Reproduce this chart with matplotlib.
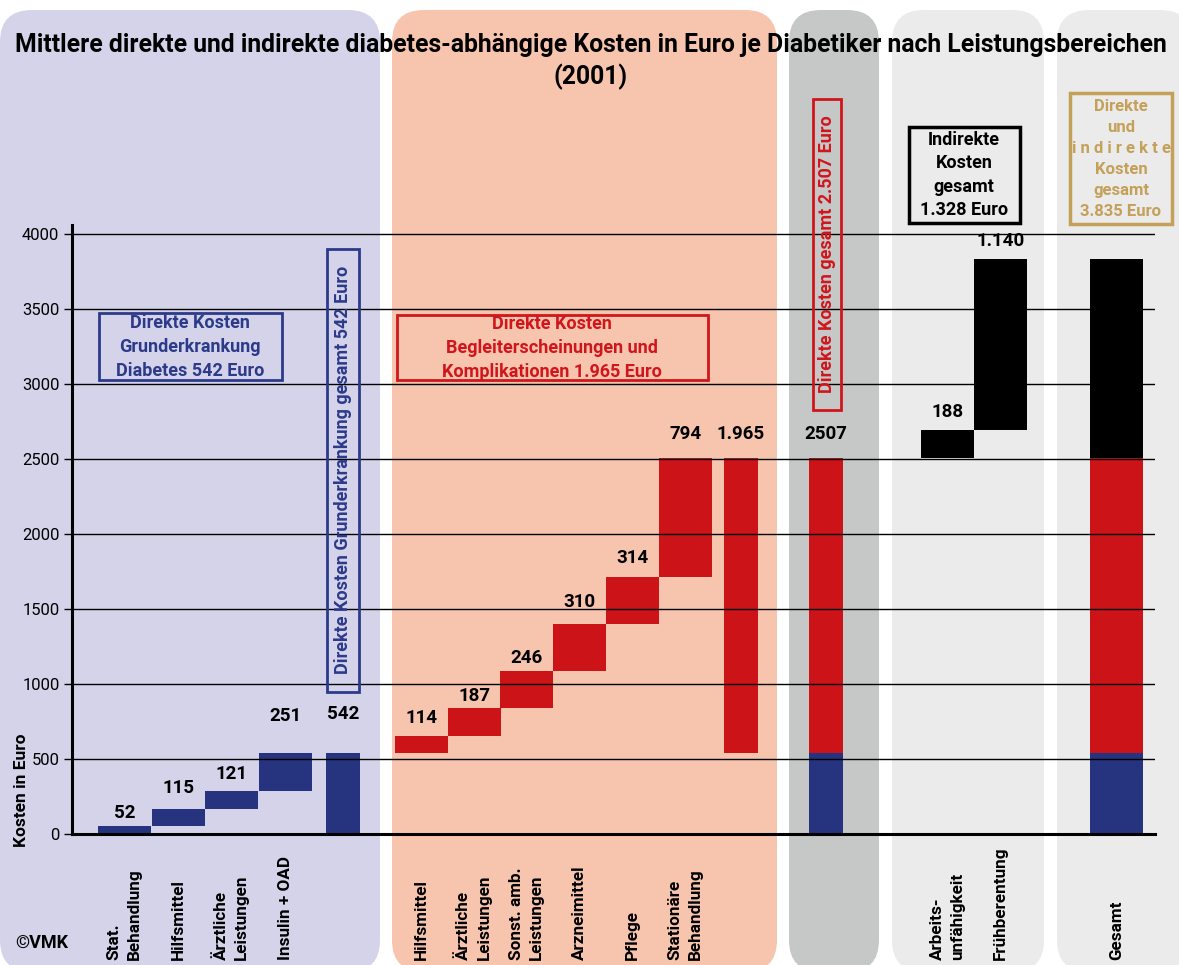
import matplotlib
matplotlib.use("Agg")
import matplotlib.pyplot as plt
import numpy as np
from matplotlib import font_manager
from matplotlib.patches import FancyBboxPatch, Rectangle

# --- data -----------------------------------------------------------------
grund_labels = ["Stat.\nBehandlung", "Hilfsmittel", "Ärztliche\nLeistungen", "Insulin + OAD"]
grund_values = [52, 115, 121, 251]
grund_total = 542

komp_labels = ["Hilfsmittel", "Ärztliche\nLeistungen", "Sonst. amb.\nLeistungen",
               "Arzneimittel", "Pflege", "Stationäre\nBehandlung"]
komp_values = [114, 187, 246, 310, 314, 794]
komp_total = 1965

direkt_total = 2507

indirekt_labels = ["Arbeits-\nunfähigkeit", "Frühberentung"]
indirekt_values = [188, 1140]
indirekt_total = 1328

gesamt_total = 3835
gesamt_label = "Gesamt"

y_ticks = [0, 500, 1000, 1500, 2000, 2500, 3000, 3500, 4000]

# --- layout (pixel columns) -------------------------------------------------
W, H = 1179, 965
grund_x = [124.5, 178.5, 231.5, 285.5]
grund_total_x = 343
komp_x = [421.5, 474, 526.5, 579.5, 632.5, 685.5]
komp_total_x = 741
direkt_x = 826
indirekt_x = [947.5, 1000.5]
gesamt_x = 1116.5
step_w, slim_w = 53, 34

BLUE = "#26347f"
BLUE_TXT = "#2c3a8a"
RED = "#cc1418"
RED_TXT = "#d0161c"
GOLD = "#c4a058"

names = {f.name for f in font_manager.fontManager.ttflist}
family = "DejaVu Sans"
for cand in ["Roboto", "Open Sans", "Noto Sans"]:
    if cand in names:
        family = cand
        break
plt.rcParams["font.family"] = [family, "DejaVu Sans"]


def de(v):
    return f"{v:,}".replace(",", ".")


fig = plt.figure(figsize=(W / 100, H / 100), dpi=100)
fig.patch.set_facecolor("white")

# background panels
bg = fig.add_axes([0, 0, 1, 1], zorder=0)
bg.set_xlim(0, W)
bg.set_ylim(H, 0)
bg.axis("off")
panels = [(0, 380, "#d5d3ea"), (392, 777, "#f7c4ae"), (789, 879, "#c6c7c7"),
          (892, 1044, "#ebebeb"), (1057, 1192, "#ebebeb")]
for x0, x1, col in panels:
    bg.add_patch(FancyBboxPatch((x0, 10), x1 - x0, 962,
                                boxstyle="round,pad=0,rounding_size=32",
                                facecolor=col, edgecolor="none"))

# main chart axes
y_top = 4060
ax = fig.add_axes([72 / W, (H - 834) / H, (1155 - 72) / W, 609 / H], zorder=1)
ax.patch.set_alpha(0)
ax.set_xlim(72, 1155)
ax.set_ylim(0, y_top)
for s in ["top", "right"]:
    ax.spines[s].set_visible(False)
ax.spines["left"].set_linewidth(2.2)
ax.spines["bottom"].set_linewidth(2.2)
ax.set_xticks([])
ax.set_yticks(y_ticks)
ax.tick_params(axis="y", length=6, width=1, labelsize=12, pad=3)
ax.yaxis.grid(True, color="black", linewidth=1)
ax.set_axisbelow(False)

grund_bottoms = np.concatenate([[0], np.cumsum(grund_values)[:-1]])
ax.bar(grund_x, grund_values, width=step_w, bottom=grund_bottoms, color=BLUE, linewidth=0)
ax.bar(grund_total_x, grund_total, width=slim_w, color=BLUE, linewidth=0)

komp_bottoms = grund_total + np.concatenate([[0], np.cumsum(komp_values)[:-1]])
ax.bar(komp_x, komp_values, width=step_w, bottom=komp_bottoms, color=RED, linewidth=0)
ax.bar(komp_total_x, komp_total, width=slim_w, bottom=grund_total, color=RED, linewidth=0)

ax.bar(direkt_x, grund_total, width=slim_w, color=BLUE, linewidth=0)
ax.bar(direkt_x, komp_total, width=slim_w, bottom=grund_total, color=RED, linewidth=0)

indirekt_bottoms = direkt_total + np.concatenate([[0], np.cumsum(indirekt_values)[:-1]])
ax.bar(indirekt_x, indirekt_values, width=step_w, bottom=indirekt_bottoms, color="black", linewidth=0)

ax.bar(gesamt_x, grund_total, width=step_w, color=BLUE, linewidth=0)
ax.bar(gesamt_x, komp_total, width=step_w, bottom=grund_total, color=RED, linewidth=0)
ax.bar(gesamt_x, indirekt_total, width=step_w, bottom=direkt_total, color="black", linewidth=0)


def value_label(x, top, text, lift_px):
    ax.annotate(text, (x, top), xytext=(0, lift_px * 0.72), textcoords="offset points",
                ha="center", va="center", fontsize=13.5, fontweight="bold", zorder=5)


grund_lift = [13, 21, 17, 37]
for x, b, v, lift in zip(grund_x, grund_bottoms, grund_values, grund_lift):
    value_label(x, b + v, str(v), lift)
value_label(grund_total_x, grund_total, str(grund_total), 39)

komp_lift = [18, 12, 13, 22, 19, 24]
for x, b, v, lift in zip(komp_x, komp_bottoms, komp_values, komp_lift):
    value_label(x, b + v, de(v), lift)
value_label(komp_total_x, grund_total + komp_total, de(komp_total), 24)
value_label(direkt_x, direkt_total, str(direkt_total), 24)

for x, b, v in zip(indirekt_x, indirekt_bottoms, indirekt_values):
    value_label(x, b + v, de(v), 18)

# overlay for text and framed notes (pixel coordinates)
ov = fig.add_axes([0, 0, 1, 1], zorder=2)
ov.set_xlim(0, W)
ov.set_ylim(H, 0)
ov.axis("off")

title = ov.text(591, 45, "Mittlere direkte und indirekte diabetes-abhängige Kosten in Euro je "
                "Diabetiker nach Leistungsbereichen", ha="center", va="center",
                fontsize=15, fontweight="bold")
title2 = ov.text(591, 77, "(2001)", ha="center", va="center", fontsize=15, fontweight="bold")

ov.text(22, 790, "Kosten in Euro", rotation=90, ha="center", va="center",
        fontsize=12.5, fontweight="bold")
ov.text(42, 943, "©VMK", ha="center", va="center", fontsize=13, fontweight="bold")

# category labels along the bottom
for xs, labels in [(grund_x, grund_labels), (komp_x, komp_labels),
                   (indirekt_x, indirekt_labels), ([gesamt_x], [gesamt_label])]:
    for x, lab in zip(xs, labels):
        ov.text(x, 960, lab, rotation=90, ha="center", va="bottom", multialignment="left",
                fontsize=12.3, fontweight="bold", linespacing=1.45)


def framed(x0, y0, x1, y1, color, lw=2):
    ov.add_patch(Rectangle((x0, y0), x1 - x0, y1 - y0, fill=False, edgecolor=color, linewidth=lw))


framed(99, 313, 282, 380, BLUE_TXT)
ov.text(190, 347, "Direkte Kosten\nGrunderkrankung\nDiabetes 542 Euro", ha="center", va="center",
        color=BLUE_TXT, fontsize=13, fontweight="bold", linespacing=1.4)

framed(327, 249, 359, 692, BLUE_TXT)
ov.text(343, 470, "Direkte Kosten Grunderkrankung gesamt 542 Euro", rotation=90,
        ha="center", va="center", color=BLUE_TXT, fontsize=13, fontweight="bold")

framed(397, 315, 708, 380, RED_TXT)
ov.text(552, 348, "Direkte Kosten\nBegleiterscheinungen und\nKomplikationen 1.965 Euro",
        ha="center", va="center", color=RED_TXT, fontsize=13, fontweight="bold", linespacing=1.4)

framed(813, 99, 841, 410, RED_TXT)
ov.text(827, 254, "Direkte Kosten gesamt 2.507 Euro", rotation=90,
        ha="center", va="center", color=RED_TXT, fontsize=13, fontweight="bold")

framed(909, 127, 1020, 223, "black", lw=2.5)
ov.text(964, 175, "Indirekte\nKosten\ngesamt\n1.328 Euro", ha="center", va="center",
        fontsize=13, fontweight="bold", linespacing=1.4)

framed(1070, 93, 1172, 224, GOLD, lw=2.5)
ov.text(1121, 159, "Direkte\nund\ni n d i r e k t e\nKosten\ngesamt\n3.835 Euro",
        ha="center", va="center", color=GOLD, fontsize=12, fontweight="bold", linespacing=1.5)

# scale the headline so it spans the chart width
fig.canvas.draw()
r = fig.canvas.get_renderer()
w = title.get_window_extent(r).width
size = 15 * 1158 / w
title.set_fontsize(size)
title2.set_fontsize(size)

fig.savefig("out.png", dpi=100, facecolor="white")
